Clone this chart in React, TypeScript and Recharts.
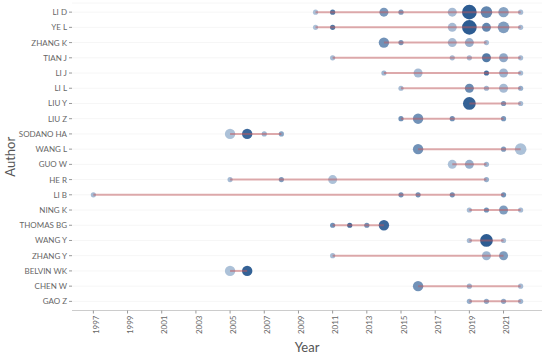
import React from 'react';
import {
  ScatterChart, Scatter, XAxis, YAxis, ZAxis, CartesianGrid, Cell,
} from 'recharts';

// authors top to bottom
const authors = [
  'LI D', 'YE L', 'ZHANG K', 'TIAN J', 'LI J', 'LI L', 'LIU Y', 'LIU Z',
  'SODANO HA', 'WANG L', 'GUO W', 'HE R', 'LI B', 'NING K', 'THOMAS BG',
  'WANG Y', 'ZHANG Y', 'BELVIN WK', 'CHEN W', 'GAO Z',
];

const yearTicks = [1997, 1999, 2001, 2003, 2005, 2007, 2009, 2011, 2013, 2015, 2017, 2019, 2021];

// [year, papers, citation level 0-100] per author
const liD = [[2010, 1, 15], [2011, 1, 75], [2014, 3, 50], [2015, 1, 45], [2018, 3, 20], [2019, 8, 100], [2020, 5, 65], [2021, 4, 40], [2022, 1, 20]];
const yeL = [[2010, 1, 15], [2011, 1, 75], [2018, 3, 20], [2019, 8, 100], [2020, 3, 65], [2021, 5, 45], [2022, 1, 20]];
const zhangK = [[2014, 4, 55], [2015, 1, 50], [2018, 3, 20], [2019, 3, 30], [2020, 1, 20]];
const tianJ = [[2011, 1, 20], [2018, 1, 20], [2019, 1, 20], [2020, 3, 75], [2021, 3, 35], [2022, 1, 20]];
const liJ = [[2014, 1, 25], [2016, 3, 20], [2020, 1, 85], [2021, 3, 25], [2022, 1, 20]];
const liL = [[2015, 1, 20], [2019, 3, 60], [2020, 1, 25], [2021, 3, 20], [2022, 1, 30]];
const liuY = [[2019, 6, 95], [2021, 1, 50], [2022, 1, 20]];
const liuZ = [[2015, 1, 55], [2016, 4, 55], [2018, 1, 55], [2021, 1, 50]];
const sodanoHA = [[2005, 4, 15], [2006, 4, 90], [2007, 1, 25], [2008, 1, 40]];
const wangL = [[2016, 4, 55], [2021, 1, 45], [2022, 5, 15]];
const guoW = [[2018, 3, 15], [2019, 3, 30], [2020, 1, 25]];
const heR = [[2005, 1, 20], [2008, 1, 45], [2011, 3, 15], [2020, 1, 30]];
const liB = [[1997, 1, 20], [2015, 1, 55], [2016, 1, 55], [2018, 1, 55], [2021, 1, 55]];
const ningK = [[2019, 1, 20], [2020, 1, 55], [2021, 3, 45], [2022, 1, 20]];
const thomasBG = [[2011, 1, 55], [2012, 1, 85], [2013, 1, 55], [2014, 4, 90]];
const wangY = [[2019, 1, 20], [2020, 6, 100], [2021, 1, 20]];
const zhangY = [[2011, 1, 20], [2020, 3, 25], [2021, 3, 45]];
const belvinWK = [[2005, 4, 15], [2006, 4, 95]];
const chenW = [[2016, 4, 55], [2019, 1, 25], [2022, 1, 20]];
const gaoZ = [[2019, 1, 30], [2020, 1, 35], [2021, 1, 35], [2022, 1, 25]];

const byAuthor = [
  liD, yeL, zhangK, tianJ, liJ, liL, liuY, liuZ, sodanoHA, wangL, guoW,
  heR, liB, ningK, thomasBG, wangY, zhangY, belvinWK, chenW, gaoZ,
];

const rows = byAuthor.map((pts) =>
  pts.map(([year, n, cites]) => ({ year, n, cites }))
);
const points = rows.flatMap((pts, row) => pts.map((p) => ({ ...p, row })));

const light = [185, 203, 224];
const dark = [8, 64, 127];
const shade = (c: number) => {
  const t = c / 100;
  const ch = light.map((l, i) => Math.round(l + (dark[i] - l) * t));
  return `rgb(${ch[0]},${ch[1]},${ch[2]})`;
};

const tickStyle = { fontSize: 8, fill: '#666', fontFamily: 'Lato' };

const AuthorTick = ({ x, y, payload }: any) => (
  <text x={x} y={y} dy={3} textAnchor="end" {...tickStyle}>
    {authors[payload.value]}
  </text>
);

export default function App() {
  return (
    <div style={{ position: 'absolute', left: 0, top: 0, background: '#fff' }}>
      <ScatterChart width={550} height={354} margin={{ top: 3, right: 8, bottom: 0, left: 0 }}>
        <CartesianGrid vertical={false} stroke="#f6f6f6" />
        <XAxis
          type="number"
          dataKey="year"
          domain={[1995.75, 2023.25]}
          ticks={yearTicks}
          interval={0}
          allowDataOverflow
          height={43.5}
          tickSize={3}
          tickLine={{ stroke: '#999' }}
          axisLine={{ stroke: '#ccc' }}
          tick={{ ...tickStyle, angle: -90, textAnchor: 'end', verticalAnchor: 'middle' }}
          label={{ value: 'Year', position: 'insideBottom', offset: 2, style: { fontSize: 13, fill: '#555', fontFamily: 'Lato' } }}
        />
        <YAxis
          type="number"
          dataKey="row"
          domain={[-0.6, 19.6]}
          reversed
          ticks={authors.map((_, i) => i)}
          interval={0}
          width={72}
          tickSize={3}
          axisLine={false}
          tickLine={{ stroke: '#999' }}
          tick={<AuthorTick />}
          label={{ value: 'Author', angle: -90, position: 'insideLeft', offset: 10, style: { fontSize: 13, fill: '#555', fontFamily: 'Lato', textAnchor: 'middle' } }}
        />
        <ZAxis type="number" dataKey="n" domain={[1, 8]} range={[21, 170]} />
        <Scatter data={points} isAnimationActive={false} shape="circle">
          {points.map((p, i) => (
            <Cell key={i} fill={shade(p.cites)} fillOpacity={0.85} />
          ))}
        </Scatter>
        {rows.map((pts, row) => (
          <Scatter
            key={row}
            data={pts.map((p) => ({ ...p, row }))}
            isAnimationActive={false}
            line={{ stroke: '#c0575b', strokeWidth: 2, strokeOpacity: 0.5 }}
            shape={() => <g />}
            legendType="none"
          />
        ))}
      </ScatterChart>
    </div>
  );
}
